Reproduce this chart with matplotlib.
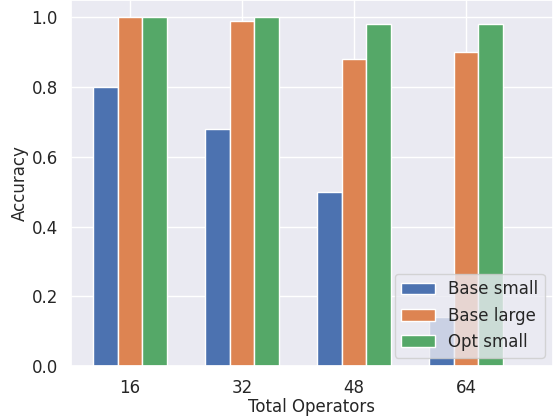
import numpy as np
import matplotlib
matplotlib.use("Agg")
import matplotlib.pyplot as plt
import seaborn as sns

# === Data ===
operators = ["16", "32", "48", "64"]
base_small = [0.80, 0.68, 0.50, 0.14]
base_large = [1.00, 0.99, 0.88, 0.90]
opt_small = [1.00, 1.00, 0.98, 0.98]

sns.set_theme(style="darkgrid")
plt.rcParams.update({"xtick.labelsize": 12, "ytick.labelsize": 12,
                     "axes.labelsize": 12, "legend.fontsize": 12})
colors = sns.color_palette("deep")

fig = plt.figure(figsize=(5.53, 4.17), dpi=100)
ax = fig.add_axes([71 / 553, 51 / 417, 482 / 553, 366 / 417])

x = np.arange(len(operators))
w = 0.22
ax.bar(x - w, base_small, w, label="Base small", color=colors[0])
ax.bar(x, base_large, w, label="Base large", color=colors[1])
ax.bar(x + w, opt_small, w, label="Opt small", color=colors[2])

ax.set_xticks(x)
ax.set_xticklabels(operators)
ax.set_xlim(-0.527, 3.777)
ax.set_ylim(0, 1.05)
ax.set_xlabel("Total Operators", labelpad=0.5)
ax.set_ylabel("Accuracy", labelpad=2)
ax.legend(loc="lower right")

fig.savefig("out.png", dpi=100)
plt.close(fig)
